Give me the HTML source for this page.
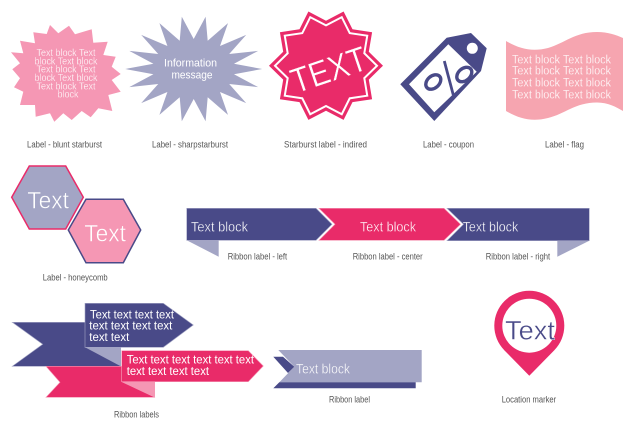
<!DOCTYPE html>
<html><head><meta charset="utf-8"><style>
html,body{margin:0;padding:0;background:#fff;width:640px;height:427px;overflow:hidden}
svg{display:block}
text{font-family:"Liberation Sans",sans-serif}
.c{font-size:9px;fill:#555}
.w{fill:#fff}
</style></head><body>
<svg width="640" height="427" viewBox="0 0 640 427" xmlns="http://www.w3.org/2000/svg">
<polygon fill="#f597b4" points="50,25 58.3,33.3 69,25.7 75,34.3 91.7,29.3 93.3,42.7 107.7,41.7 103.3,55 115.7,56.7 111.7,66.7 120.7,74 111.7,80 120.7,91.7 108.3,95 112.3,111 98.3,108.3 90.7,117.3 81.7,111 71.7,120 63.3,113.3 54.3,121.7 50,113.3 35.7,116.7 35,105 20,105 23.3,91.7 14,87.3 20,78.3 12.3,69.3 20,63.3 11,52.3 23.3,53.3 20,40.7 35,43.3 33.3,32.3 46.7,34"/>
<g class="w" font-size="10" text-anchor="middle" stroke="#f597b4" stroke-width=".2">
<text x="66" y="56" textLength="59" lengthAdjust="spacingAndGlyphs">Text block Text</text>
<text x="66" y="64.3" textLength="63" lengthAdjust="spacingAndGlyphs">block Text block</text>
<text x="66" y="72.7" textLength="59" lengthAdjust="spacingAndGlyphs">Text block Text</text>
<text x="66" y="81" textLength="63" lengthAdjust="spacingAndGlyphs">block Text block</text>
<text x="66" y="89.3" textLength="59" lengthAdjust="spacingAndGlyphs">Text block Text</text>
<text x="68" y="97.7" textLength="21" lengthAdjust="spacingAndGlyphs">block</text>
</g>
<polygon fill="#a3a5c5" transform="translate(193.7,69)" points="68.5,0 40.3,-5.2 64.4,-18.1 35.5,-15 52.5,-34.1 26.3,-23 34.3,-45.9 14,-28.2 11.9,-52.2 0,-30 -11.9,-52.2 -14,-28.2 -34.3,-45.9 -26.3,-23 -52.5,-34.1 -35.5,-15 -64.4,-18.1 -40.3,-5.2 -68.5,0 -40.3,5.2 -64.4,18.1 -35.5,15 -52.5,34.1 -26.3,23 -34.3,45.9 -14,28.2 -11.9,52.2 0,30 11.9,52.2 14,28.2 34.3,45.9 26.3,23 52.5,34.1 35.5,15 64.4,18.1 40.3,5.2"/>
<text class="w" x="190.5" y="66.7" font-size="11" text-anchor="middle" textLength="53" lengthAdjust="spacingAndGlyphs">Information</text>
<text class="w" x="192" y="78.7" font-size="11" text-anchor="middle" textLength="41" lengthAdjust="spacingAndGlyphs">message</text>
<g transform="translate(326,65.7)">
<polygon fill="#e92b69" points="57,0 42.8,13.9 46.1,33.5 26.5,36.4 17.6,54.2 0,45 -17.6,54.2 -26.5,36.4 -46.1,33.5 -42.8,13.9 -57,0 -42.8,-13.9 -46.1,-33.5 -26.5,-36.4 -17.6,-54.2 0,-45 17.6,-54.2 26.5,-36.4 46.1,-33.5 42.8,-13.9"/>
<polygon fill="#fff" transform="scale(.92)" points="57,0 42.8,13.9 46.1,33.5 26.5,36.4 17.6,54.2 0,45 -17.6,54.2 -26.5,36.4 -46.1,33.5 -42.8,13.9 -57,0 -42.8,-13.9 -46.1,-33.5 -26.5,-36.4 -17.6,-54.2 0,-45 17.6,-54.2 26.5,-36.4 46.1,-33.5 42.8,-13.9"/>
<polygon fill="#e92b69" transform="scale(.87)" points="57,0 42.8,13.9 46.1,33.5 26.5,36.4 17.6,54.2 0,45 -17.6,54.2 -26.5,36.4 -46.1,33.5 -42.8,13.9 -57,0 -42.8,-13.9 -46.1,-33.5 -26.5,-36.4 -17.6,-54.2 0,-45 17.6,-54.2 26.5,-36.4 46.1,-33.5 42.8,-13.9"/>
</g>
<text transform="translate(295.7,93.7) rotate(-18.7)" font-size="35" fill="#fff" stroke="#e92b69" stroke-width=".4" textLength="78" lengthAdjust="spacingAndGlyphs">TEXT</text>
<polygon fill="#494a88" points="400.3,84.3 446.7,37.7 471,33 486.7,48.3 481,71 434.3,121"/>
<polygon fill="#fff" points="409,84.3 448.3,44.3 476.7,71.7 434.3,112.3"/>
<circle cx="472.3" cy="48.3" r="5.5" fill="#fff"/>
<g fill="none" stroke="#494a88">
<ellipse cx="433.3" cy="82" rx="8.5" ry="6" stroke-width="3.4" transform="rotate(-42 433.3 82)"/>
<ellipse cx="464.3" cy="74.5" rx="8.5" ry="6" stroke-width="3.4" transform="rotate(-42 464.3 74.5)"/>
<line x1="444.3" y1="61" x2="453.3" y2="95" stroke-width="2.8"/>
</g>
<path fill="#f6a5b0" d="M506 41C520 49 532 52 548 48C565 43 575 32 597 32C608 32 616 35 623 38L623 111C616 107 608 102.5 597 102.5C575 102.5 565 114 548 118C532 122 520 119 506 111Z"/>
<g class="w" font-size="11.5" stroke="#f6a5b0" stroke-width=".2">
<text x="512" y="63.5" textLength="99" lengthAdjust="spacingAndGlyphs">Text block Text block</text>
<text x="512" y="74.5" textLength="99" lengthAdjust="spacingAndGlyphs">Text block Text block</text>
<text x="512" y="86.5" textLength="99" lengthAdjust="spacingAndGlyphs">Text block Text block</text>
<text x="512" y="98.5" textLength="99" lengthAdjust="spacingAndGlyphs">Text block Text block</text>
</g>
<g class="c">
<text x="27" y="147.5" textLength="75" lengthAdjust="spacingAndGlyphs">Label - blunt starburst</text>
<text x="152" y="147.5" textLength="76" lengthAdjust="spacingAndGlyphs">Label - sharpstarburst</text>
<text x="284" y="147.5" textLength="83" lengthAdjust="spacingAndGlyphs">Starburst label - indired</text>
<text x="423" y="147.5" textLength="51" lengthAdjust="spacingAndGlyphs">Label - coupon</text>
<text x="545" y="147.5" textLength="39" lengthAdjust="spacingAndGlyphs">Label - flag</text>
<text x="42.7" y="280.7" textLength="65" lengthAdjust="spacingAndGlyphs">Label - honeycomb</text>
<text x="227.7" y="259.3" textLength="59.5" lengthAdjust="spacingAndGlyphs">Ribbon label - left</text>
<text x="352.7" y="259.3" textLength="70" lengthAdjust="spacingAndGlyphs">Ribbon label - center</text>
<text x="485.7" y="259.3" textLength="64.5" lengthAdjust="spacingAndGlyphs">Ribbon label - right</text>
<text x="114" y="417.3" textLength="45" lengthAdjust="spacingAndGlyphs">Ribbon labels</text>
<text x="329" y="402.3" textLength="41" lengthAdjust="spacingAndGlyphs">Ribbon label</text>
<text x="501.7" y="402.3" textLength="54.5" lengthAdjust="spacingAndGlyphs">Location marker</text>
</g>
<polygon fill="#a3a5c5" stroke="#e92b69" stroke-width="1.5" points="11.7,197.3 29.3,166 65.7,166 83.3,197.3 65.7,229 29.3,229"/>
<polygon fill="#f597b4" stroke="#494a88" stroke-width="1.5" points="68.3,230 86,199.3 123.3,199.3 140.7,230 123.3,262.7 86,262.7"/>
<text x="27.3" y="208.3" font-size="24" fill="#fff" stroke="#a3a5c5" stroke-width=".5" textLength="41.7" lengthAdjust="spacingAndGlyphs">Text</text>
<text x="84.3" y="241.7" font-size="24" fill="#fff" stroke="#f597b4" stroke-width=".5" textLength="41.7" lengthAdjust="spacingAndGlyphs">Text</text>
<polygon fill="#a3a5c5" points="186.7,240.3 218.7,240.3 218.7,256.7"/>
<polygon fill="#494a88" stroke="#a3a5c5" stroke-width=".6" points="186.7,208.3 316,208.3 332,224.3 316,240.3 186.7,240.3"/>
<polygon fill="#e92b69" stroke="#f597b4" stroke-width=".6" points="319,208.3 444,208.3 460.5,224.3 444,240.3 319,240.3 335,224.3"/>
<polygon fill="#494a88" stroke="#a3a5c5" stroke-width=".6" points="447,208.3 589.3,208.3 589.3,240.7 447,240.7 463.5,224.3"/>
<polygon fill="#a3a5c5" points="557.3,240.7 589.3,240.7 557.3,256.7"/>
<g class="w" font-size="14">
<text x="191" y="231.7" stroke="#494a88" stroke-width=".3" textLength="57" lengthAdjust="spacingAndGlyphs">Text block</text>
<text x="360" y="231.7" stroke="#e92b69" stroke-width=".3" textLength="56" lengthAdjust="spacingAndGlyphs">Text block</text>
<text x="462.7" y="231.7" stroke="#494a88" stroke-width=".3" textLength="55.5" lengthAdjust="spacingAndGlyphs">Text block</text>
</g>
<polygon fill="#494a88" stroke="#a3a5c5" stroke-width=".6" points="12.3,322.3 85,322.3 120.7,347.3 120.7,366.3 12.3,366.3 42.7,344.3"/>
<polygon fill="#e92b69" stroke="#f597b4" stroke-width=".6" points="46,366.3 121.7,366.3 121.7,381.7 155,397.3 46,397.3 60,382.3"/>
<polygon fill="#f597b4" points="121.7,381.7 155,381.7 155,397.3"/>
<polygon fill="#494a88" stroke="#a3a5c5" stroke-width=".6" points="85,303.3 163.3,303.3 193.3,325 163.3,347.3 85,347.3"/>
<polygon fill="#a3a5c5" points="85,347.3 120.7,347.3 120.7,366.3"/>
<polygon fill="#e92b69" stroke="#f597b4" stroke-width=".6" points="121.7,350.7 248.3,350.7 263.3,366 248.3,381.7 121.7,381.7"/>
<g class="w" font-size="12">
<text x="90" y="318.3" textLength="84" lengthAdjust="spacingAndGlyphs">Text text text text</text>
<text x="89.3" y="329.5" textLength="83" lengthAdjust="spacingAndGlyphs">text text text text</text>
<text x="89.3" y="341" textLength="40" lengthAdjust="spacingAndGlyphs">text text</text>
<text x="126.7" y="363.3" textLength="127.3" lengthAdjust="spacingAndGlyphs">Text text text text text text</text>
<text x="126.7" y="375" textLength="82.3" lengthAdjust="spacingAndGlyphs">text text text text</text>
</g>
<polygon fill="#a3a5c5" points="278.3,350 421.7,350 421.7,382.3 279.3,382.3 294.3,366.7"/>
<polygon fill="#494a88" points="273.3,356.7 283,356.7 294.3,366.7 288,373"/>
<polygon fill="#494a88" points="273.3,388.3 415.7,388.3 415.7,382.3 279.3,382.3"/>
<text class="w" x="296" y="373.3" font-size="14" stroke="#a3a5c5" stroke-width=".3" textLength="54" lengthAdjust="spacingAndGlyphs">Text block</text>
<path fill="#e92b69" d="M504.3 350.2A35 35 0 1 1 554.3 350.2L529.3 375.7Z"/>
<circle cx="529.3" cy="325.7" r="27" fill="#fff"/>
<text x="505" y="339.3" font-size="27" fill="#494a88" stroke="#fff" stroke-width=".4" textLength="50" lengthAdjust="spacingAndGlyphs">Text</text>
</svg>
</body></html>
